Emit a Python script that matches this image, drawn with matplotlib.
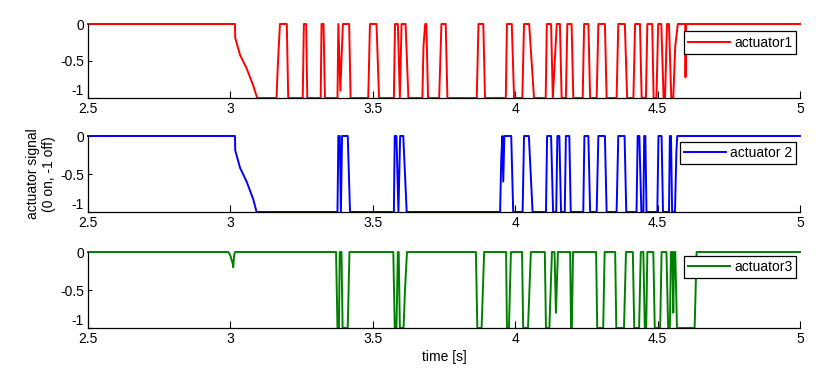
import matplotlib
matplotlib.use("Agg")
import matplotlib.pyplot as plt

plt.rcParams['font.family'] = ['Liberation Sans', 'DejaVu Sans']

# ---- data (time [s], signal) ----
t1 = [2.5, 3.016, 3.017, 3.034, 3.057, 3.080, 3.094,
      3.162, 3.166, 3.174, 3.198, 3.203,
      3.254, 3.258, 3.266, 3.270,
      3.317, 3.320, 3.327, 3.332,
      3.376, 3.379, 3.386, 3.395, 3.417, 3.422,
      3.484, 3.490, 3.513, 3.522,
      3.574, 3.578, 3.588, 3.595, 3.601, 3.615, 3.625,
      3.674, 3.678, 3.684, 3.688, 3.694,
      3.733, 3.741, 3.756, 3.762,
      3.865, 3.871, 3.888, 3.894,
      3.967, 3.971, 3.988, 3.996,
      4.025, 4.031, 4.049, 4.066,
      4.107, 4.111, 4.126, 4.132, 4.146, 4.157, 4.163,
      4.178, 4.183, 4.198, 4.204,
      4.237, 4.242, 4.257, 4.263,
      4.286, 4.292, 4.315, 4.321,
      4.356, 4.362, 4.385, 4.393,
      4.415, 4.421, 4.438, 4.444,
      4.459, 4.464, 4.481, 4.486,
      4.496, 4.502, 4.513, 4.521,
      4.526, 4.533, 4.540, 4.548,
      4.555, 4.562, 4.571, 4.597, 4.598, 4.600, 5.0]
y1 = [0, 0, -0.19, -0.42, -0.60, -0.83, -1,
      -1, -0.6, 0, 0, -1,
      -1, 0, 0, -1,
      -1, 0, 0, -1,
      -1, 0, -0.9, 0, 0, -1,
      -1, 0, 0, -1,
      -1, 0, 0, -1, 0, 0, -1,
      -1, -0.3, 0, 0, -1,
      -1, 0, 0, -1,
      -1, 0, 0, -1,
      -1, 0, 0, -1,
      -1, 0, 0, -1,
      -1, 0, 0, -1, 0, 0, -1,
      -1, 0, 0, -1,
      -1, 0, 0, -1,
      -1, 0, 0, -1,
      -1, 0, 0, -1,
      -1, 0, 0, -1,
      -1, 0, 0, -1,
      -1, 0, 0, -1,
      -1, 0, 0, -1,
      -1, -0.3, 0, 0, -0.72, 0, 0]

t2 = [2.5, 3.016, 3.017, 3.034, 3.057, 3.080, 3.092,
      3.376, 3.379, 3.384, 3.388, 3.392, 3.412, 3.420,
      3.574, 3.577, 3.583, 3.590, 3.596, 3.607, 3.619,
      3.947, 3.951, 3.955, 3.958, 3.962, 3.986, 3.993,
      4.026, 4.031, 4.048, 4.061,
      4.108, 4.112, 4.126, 4.133, 4.144, 4.148, 4.155, 4.161,
      4.174, 4.178, 4.190, 4.195,
      4.239, 4.243, 4.257, 4.263,
      4.286, 4.292, 4.315, 4.321,
      4.356, 4.362, 4.384, 4.390,
      4.426, 4.430, 4.436, 4.443, 4.450, 4.453, 4.457, 4.461,
      4.499, 4.503, 4.514, 4.519,
      4.540, 4.543, 4.547, 4.551,
      4.561, 4.566, 4.569, 5.0]
y2 = [0, 0, -0.19, -0.42, -0.60, -0.83, -1,
      -1, 0, 0, -1, 0, 0, -1,
      -1, 0, 0, -1, 0, 0, -1,
      -1, -0.3, 0, -0.6, 0, 0, -1,
      -1, 0, 0, -1,
      -1, 0, 0, -1, -1, 0, 0, -1,
      -1, 0, 0, -1,
      -1, 0, 0, -1,
      -1, 0, 0, -1,
      -1, 0, 0, -1,
      -1, 0, 0, -1, -1, 0, 0, -1,
      -1, 0, 0, -1,
      -1, 0, 0, -1,
      -1, -0.2, 0, 0]

t3 = [2.5, 2.993, 3.000, 3.008, 3.010, 3.013, 3.016,
      3.371, 3.376, 3.381, 3.384, 3.390, 3.394, 3.412, 3.418,
      3.572, 3.577, 3.583, 3.588, 3.591, 3.595, 3.608, 3.613, 3.620,
      3.862, 3.867, 3.882, 3.891,
      3.968, 3.971, 3.978, 3.985,
      4.024, 4.028, 4.045, 4.055,
      4.104, 4.108, 4.120, 4.129, 4.138, 4.143, 4.150,
      4.193, 4.196, 4.199, 4.203,
      4.284, 4.288, 4.309, 4.314,
      4.351, 4.355, 4.382, 4.389,
      4.413, 4.418, 4.435, 4.441, 4.450, 4.455, 4.460, 4.464,
      4.485, 4.490, 4.509, 4.514, 4.531, 4.537, 4.543, 4.547,
      4.552, 4.555, 4.558, 4.562, 4.568, 4.630, 4.637, 5.0]
y3 = [0, 0, -0.05, -0.15, -0.2, -0.05, 0,
      0, -1, -1, 0, 0, -1, -1, 0,
      0, -1, -1, 0, 0, -1, -1, -0.5, 0,
      0, -1, -1, 0,
      0, -1, -1, 0,
      0, -1, -1, 0,
      0, -1, -1, 0, 0, -0.8, 0,
      0, -1, -1, 0,
      0, -1, -1, 0,
      0, -1, -1, 0,
      0, -1, -1, 0, 0, -1, -1, 0,
      0, -1, -1, 0, 0, -1, -1, 0,
      0, -0.8, 0, 0, -1, -1, 0, 0]

labels = ['actuator1', 'actuator 2', 'actuator3']
colors = ['#ff0000', '#0000ff', '#008000']
xticks = [2.5, 3, 3.5, 4, 4.5, 5]
xticklabels = ['2.5', '3', '3.5', '4', '4.5', '5']
yticks = [-1, -0.5, 0]
yticklabels = ['-1', '-0.5', '0']

fig = plt.figure(figsize=(8.2, 3.69), dpi=100)
W, H = 820.0, 369.0
left, right = 88, 800
rows = [(24, 98), (136, 212), (252, 328)]
leg_y = [0.90, 0.925, 0.947]
series = [(t1, y1), (t2, y2), (t3, y3)]

FS = 10
axes = []
for i, ((top, bot), (tt, yy)) in enumerate(zip(rows, series)):
    ax = fig.add_axes([left / W, 1 - bot / H, (right - left) / W, (bot - top) / H])
    ax.plot(tt, yy, color=colors[i], lw=1.4, label=labels[i], clip_on=False)
    ax.set_xlim(2.5, 5)
    ax.set_ylim(-1, 0)
    ax.set_xticks(xticks)
    ax.set_xticklabels(xticklabels)
    ax.set_yticks(yticks)
    ax.set_yticklabels(yticklabels)
    for s in ['top', 'right']:
        ax.spines[s].set_visible(False)
    for s in ['left', 'bottom']:
        ax.spines[s].set_linewidth(0.9)
    ax.tick_params(axis='x', direction='in', length=5, width=0.8, labelsize=FS, pad=3)
    ax.tick_params(axis='y', direction='in', length=3, width=0.8, labelsize=FS, pad=3)
    # keep the "-1" label clear of the "2.5" label just below it
    ax.get_yticklabels()[0].set_verticalalignment('bottom')
    leg = ax.legend(loc='upper right', bbox_to_anchor=(0.995, leg_y[i]), borderaxespad=0,
                    fancybox=False, edgecolor='black', framealpha=1, fontsize=FS,
                    handlelength=3.0, handletextpad=0.3, borderpad=0.3)
    leg.get_frame().set_linewidth(0.9)
    axes.append(ax)

axes[1].set_ylabel('actuator signal\n(0 on, -1 off)', fontsize=FS, labelpad=3)
axes[2].set_xlabel('time [s]', fontsize=FS, labelpad=3)

fig.savefig('out.png', dpi=100)
